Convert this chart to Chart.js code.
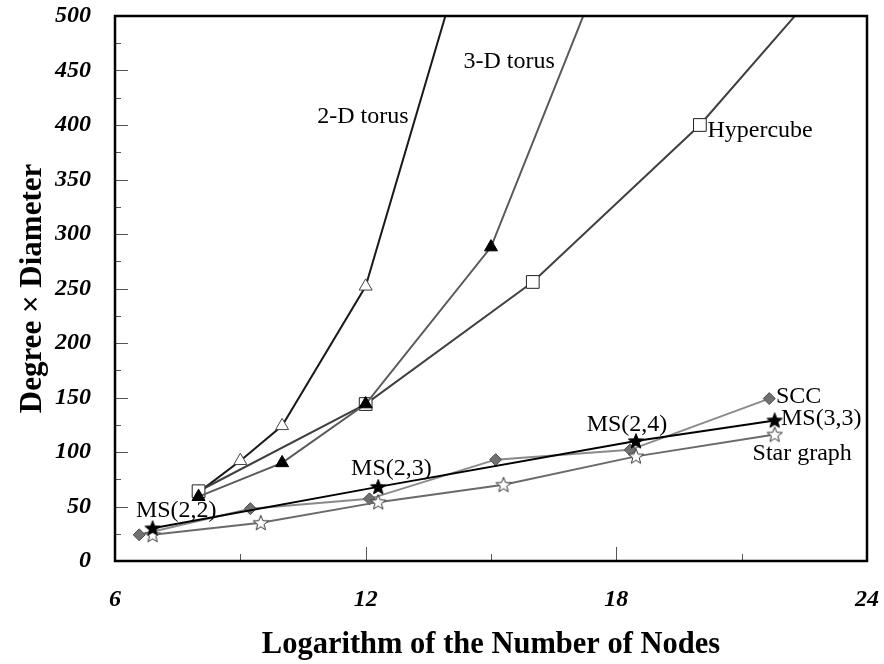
<!DOCTYPE html>
<html>
<head>
<meta charset="utf-8">
<script src="https://cdn.jsdelivr.net/npm/chart.js@4"></script>
<style>
  body { margin: 0; background: #fff; }
</style>
</head>
<body>
<canvas id="chart" width="884" height="664"></canvas>
<script>
// values (x = log2 of node count)
const torus2dX = [8, 9, 10, 12, 14];
const torus2dY = [63, 92, 124, 252, 512];
const torus3dX = [8, 10, 12, 15, 18];
const torus3dY = [59, 90, 144, 288, 576];
const hypercubeX = [8, 12, 16, 20, 24];
const hypercubeY = [64, 144, 256, 400, 576];
const sccX = [6.58, 9.24, 12.09, 15.11, 18.33, 21.66];
const sccY = [24, 48, 57, 93, 102, 149];
const msX = [6.9, 12.3, 18.47, 21.79];
const msY = [30, 68, 110, 129];
const starX = [6.9, 9.49, 12.3, 15.3, 18.47, 21.79];
const starY = [24, 35, 54, 70, 96, 116];

const xTicks = [6, 12, 18, 24];
const yTicks = [0, 50, 100, 150, 200, 250, 300, 350, 400, 450, 500];

// curve labels: text, x, y (baseline, data units)
const labelText = ['2-D torus', '3-D torus', 'Hypercube', 'SCC', 'MS(3,3)', 'Star graph', 'MS(2,4)', 'MS(2,3)', 'MS(2,2)'];
const labelX = [10.84, 14.34, 20.18, 21.82, 21.94, 21.26, 17.29, 11.65, 6.50];
const labelY = [401.6, 452, 389.4, 145, 125.1, 93, 119, 79.3, 40.8];

const SERIF = "'Liberation Serif', 'Times New Roman', serif";

function pts(xs, ys) {
    return xs.map((x, i) => ({ x: x, y: ys[i] }));
}

function starImage(fill, stroke) {
    const c = document.createElement('canvas');
    c.width = 18; c.height = 18;
    const g = c.getContext('2d');
    g.beginPath();
    for (let i = 0; i < 10; i++) {
        const r = i % 2 === 0 ? 8 : 3.4;
        const a = -Math.PI / 2 + i * Math.PI / 5;
        const px = 9 + r * Math.cos(a), py = 9.5 + r * Math.sin(a);
        if (i === 0) g.moveTo(px, py); else g.lineTo(px, py);
    }
    g.closePath();
    g.fillStyle = fill;
    g.fill();
    g.lineWidth = 1;
    g.strokeStyle = stroke;
    g.stroke();
    return c;
}

const msStar = starImage('#000', '#000');
const openStar = starImage('#fff', '#333');

const frameAndTicks = {
    id: 'frameAndTicks',
    afterDatasetsDraw(chart) {
        const { ctx, chartArea: a, scales } = chart;
        ctx.save();
        ctx.strokeStyle = '#555';
        ctx.lineWidth = 1;
        for (let v = 25; v < 500; v += 25) {
            const y = Math.round(scales.y.getPixelForValue(v)) + 0.5;
            const len = v % 50 === 0 ? 13 : 6;
            ctx.beginPath();
            ctx.moveTo(a.left, y);
            ctx.lineTo(a.left + len, y);
            ctx.stroke();
        }
        for (let v = 9; v < 24; v += 3) {
            const x = Math.round(scales.x.getPixelForValue(v)) + 0.5;
            const len = v % 6 === 0 ? 14 : 7;
            ctx.beginPath();
            ctx.moveTo(x, a.bottom);
            ctx.lineTo(x, a.bottom - len);
            ctx.stroke();
        }
        ctx.strokeStyle = '#000';
        ctx.lineWidth = 2.5;
        ctx.strokeRect(a.left, a.top, a.right - a.left, a.bottom - a.top);

        ctx.fillStyle = '#000';
        ctx.font = '24px ' + SERIF;
        ctx.textAlign = 'left';
        ctx.textBaseline = 'alphabetic';
        labelText.forEach((t, i) => {
            ctx.fillText(t, scales.x.getPixelForValue(labelX[i]), scales.y.getPixelForValue(labelY[i]));
        });
        ctx.restore();
    }
};

const chart = new Chart(document.getElementById('chart'), {
    type: 'scatter',
    data: {
        datasets: [
            {
                label: 'MS',
                data: pts(msX, msY),
                showLine: true,
                borderColor: '#000',
                borderWidth: 2,
                pointStyle: msStar,
                pointRadius: 8
            },
            {
                label: 'Star graph',
                data: pts(starX, starY),
                showLine: true,
                borderColor: '#6a6a6a',
                borderWidth: 2,
                pointStyle: openStar,
                pointRadius: 8
            },
            {
                label: 'SCC',
                data: pts(sccX, sccY),
                showLine: true,
                borderColor: '#8a8a8a',
                borderWidth: 2,
                pointStyle: 'rectRot',
                pointRadius: 6,
                pointBackgroundColor: '#707070',
                pointBorderColor: '#4a4a4a',
                pointBorderWidth: 1
            },
            {
                label: '3-D torus',
                data: pts(torus3dX, torus3dY),
                showLine: true,
                borderColor: '#5a5a5a',
                borderWidth: 2,
                pointStyle: 'triangle',
                pointRadius: 7.5,
                pointBackgroundColor: '#000',
                pointBorderColor: '#000',
                pointBorderWidth: 1
            },
            {
                label: 'Hypercube',
                data: pts(hypercubeX, hypercubeY),
                showLine: true,
                borderColor: '#404040',
                borderWidth: 2,
                pointStyle: 'rect',
                pointRadius: 9,
                pointBackgroundColor: '#fff',
                pointBorderColor: '#222',
                pointBorderWidth: 1
            },
            {
                label: '2-D torus',
                data: pts(torus2dX, torus2dY),
                showLine: true,
                borderColor: '#1a1a1a',
                borderWidth: 2,
                pointStyle: 'triangle',
                pointRadius: 7.5,
                pointBackgroundColor: '#fff',
                pointBorderColor: '#444',
                pointBorderWidth: 1
            }
        ]
    },
    options: {
        responsive: false,
        animation: false,
        layout: { padding: { top: 16, right: 17, left: 0, bottom: 0 } },
        plugins: {
            legend: { display: false },
            tooltip: { enabled: false }
        },
        scales: {
            x: {
                type: 'linear',
                min: 6,
                max: 24,
                afterFit: s => { s.height = 103; s.paddingLeft = 0; s.paddingRight = 0; },
                afterBuildTicks: s => { s.ticks = xTicks.map(v => ({ value: v })); },
                grid: { display: false, drawTicks: false },
                border: { display: false },
                ticks: {
                    padding: 24,
                    color: '#000',
                    font: { family: SERIF, size: 24, style: 'italic', weight: 'bold' }
                },
                title: {
                    display: true,
                    text: 'Logarithm of the Number of Nodes',
                    color: '#000',
                    padding: { top: 0, bottom: 1 },
                    font: { family: SERIF, size: 30.5, weight: 'bold' }
                }
            },
            y: {
                type: 'linear',
                min: 0,
                max: 500,
                afterFit: s => { s.width = 115; s.paddingTop = 0; s.paddingBottom = 0; },
                afterBuildTicks: s => { s.ticks = yTicks.map(v => ({ value: v })); },
                grid: { display: false, drawTicks: false },
                border: { display: false },
                ticks: {
                    padding: 24,
                    color: '#000',
                    font: { family: SERIF, size: 24, style: 'italic', weight: 'bold' }
                },
                title: {
                    display: true,
                    text: 'Degree × Diameter',
                    color: '#000',
                    padding: { top: 14, bottom: 0 },
                    font: { family: SERIF, size: 31, weight: 'bold' }
                }
            }
        }
    },
    plugins: [frameAndTicks]
});
</script>
</body>
</html>
